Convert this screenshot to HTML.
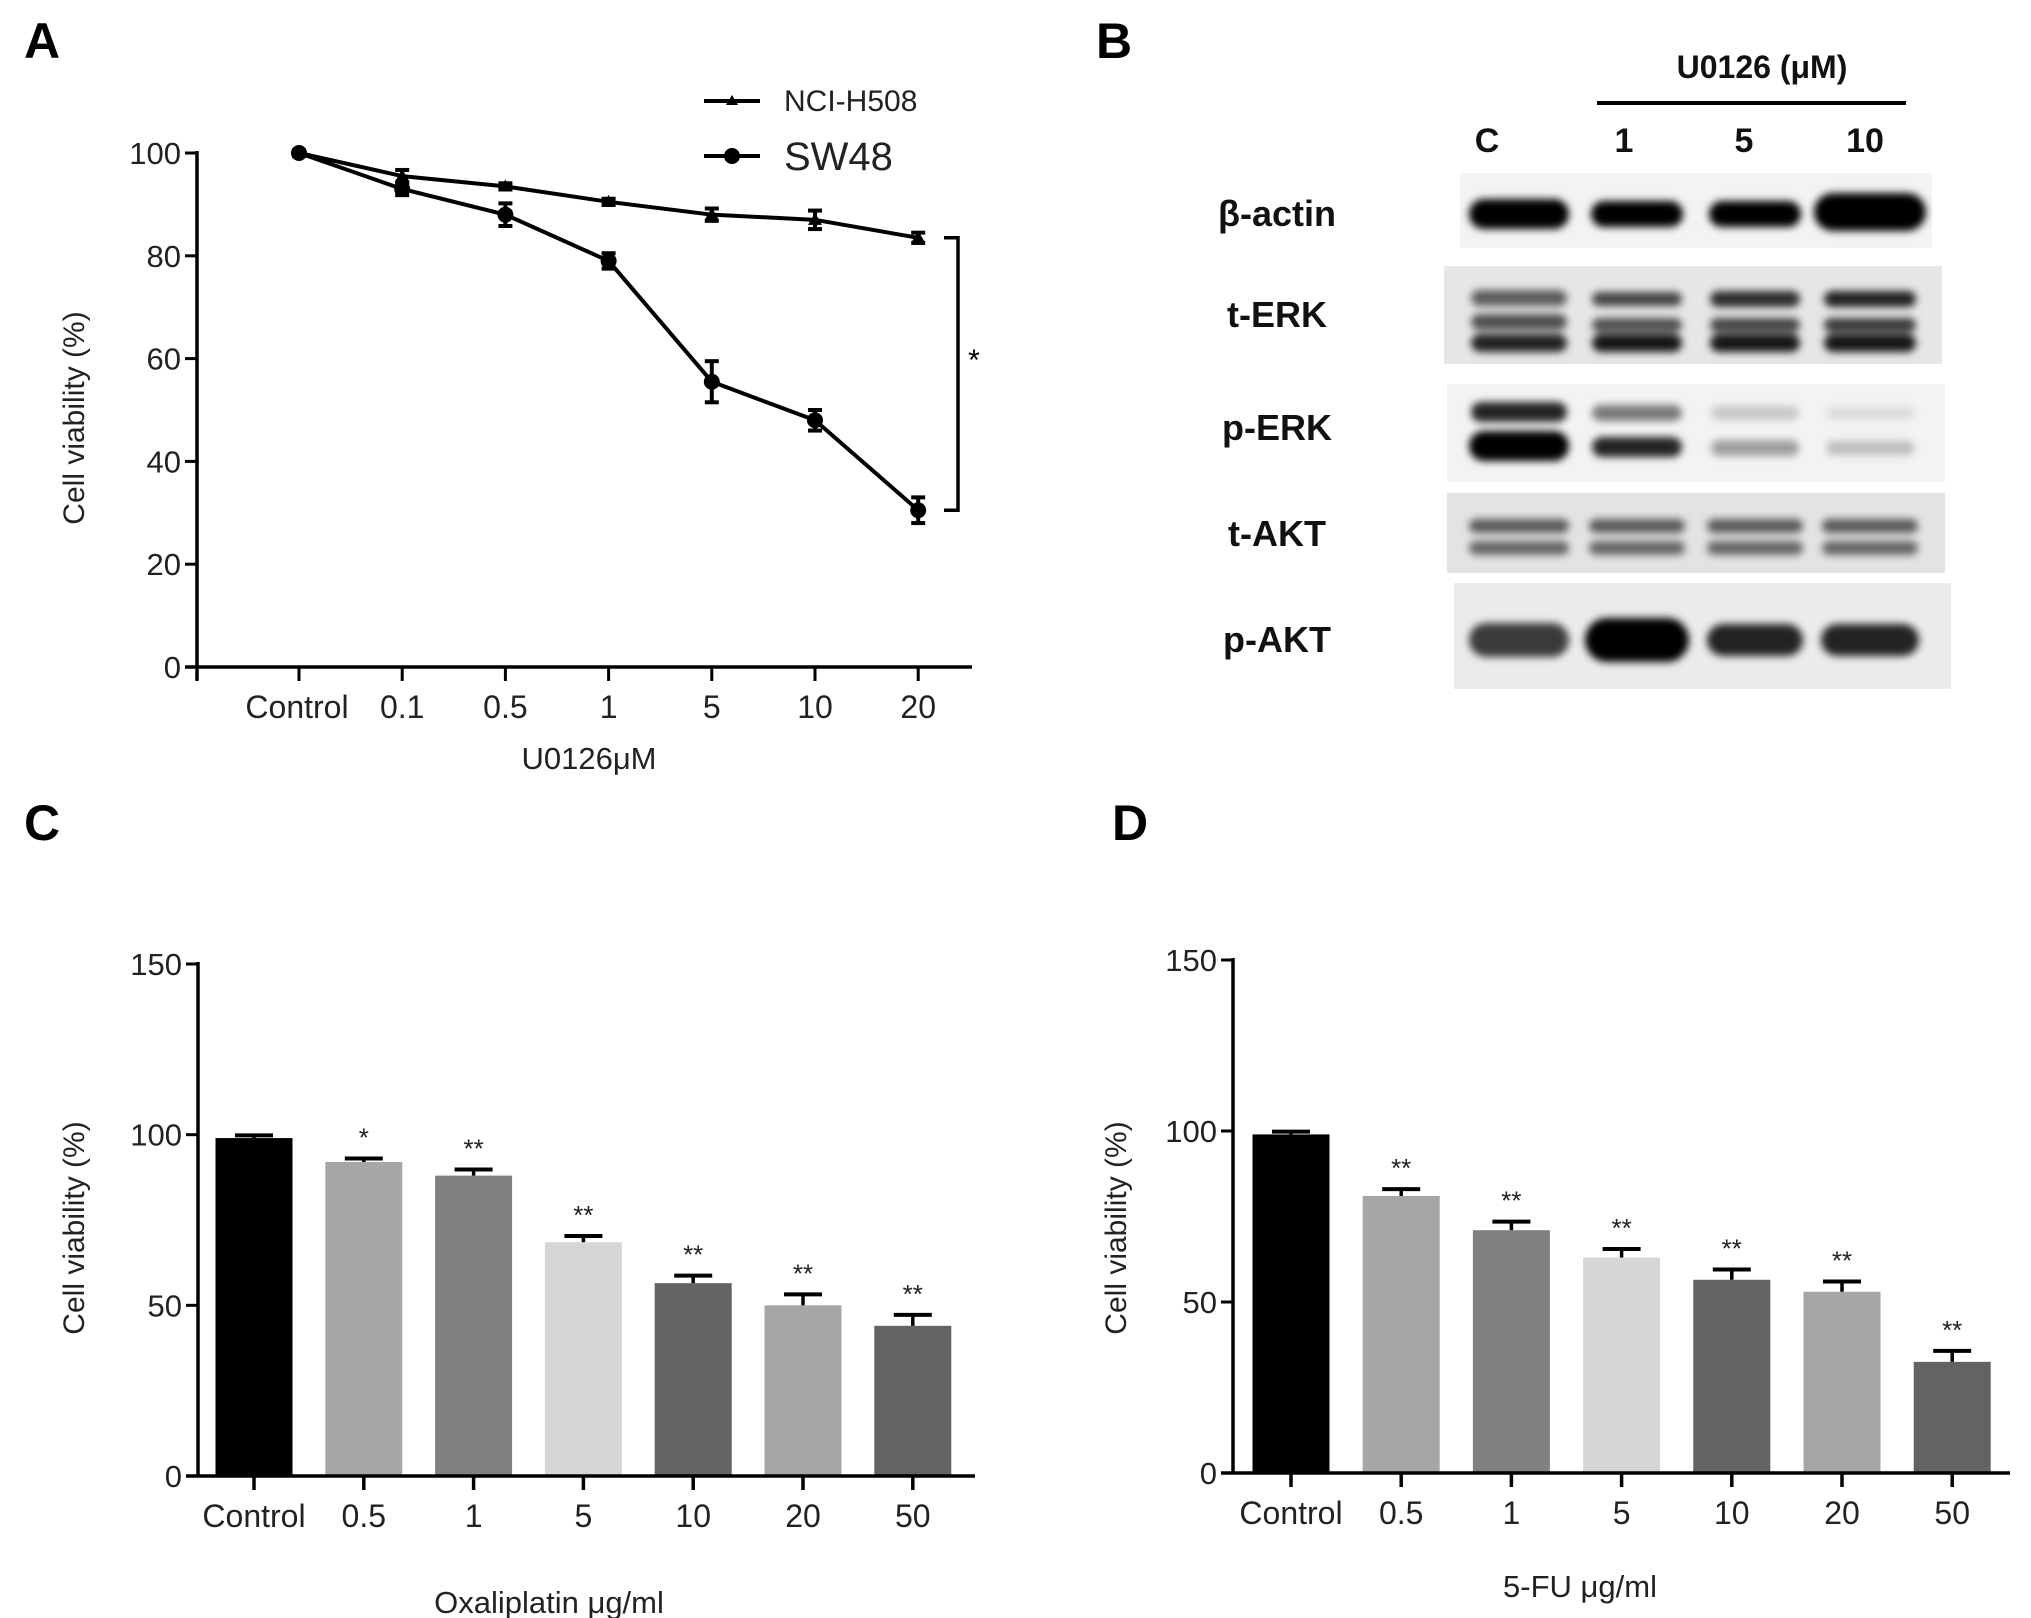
<!DOCTYPE html>
<html><head><meta charset="utf-8">
<style>
html,body{margin:0;padding:0;background:#fff;}
svg{display:block;font-family:"Liberation Sans",Arial,sans-serif;}
</style></head>
<body>
<svg id="fig" width="2031" height="1618" viewBox="0 0 2031 1618" xmlns="http://www.w3.org/2000/svg">
<defs>
<filter id="blur3" x="-20%" y="-60%" width="140%" height="220%"><feGaussianBlur stdDeviation="4"/></filter>
</defs>
<g id="panelA"></g>
<g id="panelB"></g>
<g id="panelC"></g>
<g id="panelD"></g>
</svg>
<script>
// ---- Panel A data ----
const aCategories = ["Control","0.1","0.5","1","5","10","20"];
const aNciValues = [100, 95.5, 93.5, 90.5, 88, 87, 83.5];
const aNciErrors = [0.5, 1.2, 0.6, 0.6, 1.2, 1.8, 1.0];
const aSwValues = [100, 93, 88, 79, 55.5, 48, 30.5];
const aSwErrors = [0.5, 1.2, 2.2, 1.5, 4.0, 2.0, 2.5];
const aYTicks = [0, 20, 40, 60, 80, 100];
// ---- Panel C data ----
const cCategories = ["Control","0.5","1","5","10","20","50"];
const cValues = [99, 92, 88, 68.5, 56.5, 50, 44];
const cErrors = [0.8, 1.0, 1.8, 1.8, 2.2, 3.2, 3.2];
const cStars = ["", "*", "**", "**", "**", "**", "**"];
// ---- Panel D data ----
const dCategories = ["Control","0.5","1","5","10","20","50"];
const dValues = [99, 81, 71, 63, 56.5, 53, 32.5];
const dErrors = [0.8, 2.0, 2.5, 2.5, 3.0, 3.0, 3.2];
const dStars = ["", "**", "**", "**", "**", "**", "**"];
const barYTicks = [0, 50, 100, 150];
// ---- Panel B data ----
const bLanes = ["C","1","5","10"];
const bRows = ["β-actin","t-ERK","p-ERK","t-AKT","p-AKT"];

const NS = "http://www.w3.org/2000/svg";
function mk(parent, tag, attrs, text){
  const e = document.createElementNS(NS, tag);
  for (const k in attrs) e.setAttribute(k, attrs[k]);
  if (text !== undefined) e.textContent = text;
  parent.appendChild(e);
  return e;
}
const barColors = ["#000000","#a6a6a6","#808080","#d6d6d6","#636363","#a6a6a6","#636363"];

// ================= Panel A =================
(function(){
  const g = document.getElementById('panelA');
  const x0 = 197, yTop = 153, yBot = 667;
  const xs = i => 299 + i * 103.2;
  const ys = v => yBot - (v / 100) * (yBot - yTop);
  let t = mk(g,'text',{x:24,y:58,'font-size':50,'font-weight':'bold'},'A');
   
  let ax = mk(g,'line',{x1:x0,y1:yTop-2,x2:x0,y2:yBot+14,stroke:'#000','stroke-width':3.5});
   
  let axx = mk(g,'line',{x1:x0-12,y1:yBot,x2:972,y2:yBot,stroke:'#000','stroke-width':3.5});
   
  aYTicks.forEach(v=>{
    mk(g,'line',{x1:x0-12,y1:ys(v),x2:x0,y2:ys(v),stroke:'#000','stroke-width':3});
    const l = mk(g,'text',{x:x0-16,y:ys(v)+11,'font-size':31,'text-anchor':'end',fill:'#222'},String(v));
     
  });
  aCategories.forEach((c,i)=>{
    mk(g,'line',{x1:xs(i),y1:yBot,x2:xs(i),y2:yBot+14,stroke:'#000','stroke-width':3});
    const l = mk(g,'text',{x:xs(i)+(i===0?-2:0),y:718,'font-size':32,'text-anchor':'middle',fill:'#222'},c);
     
  });
  let yl = mk(g,'text',{x:0,y:0,'font-size':30,'text-anchor':'middle',fill:'#222',transform:'translate(84,418) rotate(-90)'},'Cell viability (%)');
   
  let xl = mk(g,'text',{x:589,y:769,'font-size':31,'text-anchor':'middle',fill:'#222'},'U0126μM');
   
  function series(vals, errs, marker, name){
    const sg = mk(g,'g',{});
     
    mk(sg,'polyline',{points:vals.map((v,i)=>xs(i)+','+ys(v)).join(' '),fill:'none',stroke:'#000','stroke-width':4});
    vals.forEach((v,i)=>{
      const x=xs(i), yh=ys(v+errs[i]), yl2=ys(v-errs[i]);
      mk(sg,'line',{x1:x,y1:yh,x2:x,y2:yl2,stroke:'#000','stroke-width':4});
      mk(sg,'line',{x1:x-7,y1:yh,x2:x+7,y2:yh,stroke:'#000','stroke-width':4});
      mk(sg,'line',{x1:x-7,y1:yl2,x2:x+7,y2:yl2,stroke:'#000','stroke-width':4});
      let m;
      if (marker==='circle') m = mk(sg,'circle',{cx:x,cy:ys(v),r:8,fill:'#000'});
      else m = mk(sg,'polygon',{points:`${x},${ys(v)-7} ${x-7},${ys(v)+5} ${x+7},${ys(v)+5}`,fill:'#000'});
       
    });
  }
  series(aNciValues, aNciErrors, 'tri', 'series-nci-h508');
  series(aSwValues, aSwErrors, 'circle', 'series-sw48');
  const lg = mk(g,'g',{});  
  mk(lg,'line',{x1:704,y1:101,x2:760,y2:101,stroke:'#000','stroke-width':4});
  mk(lg,'polygon',{points:'732,95 726,105 738,105',fill:'#000'});
  let le1 = mk(lg,'text',{x:784,y:111,'font-size':30,fill:'#222'},'NCI-H508');
   
  mk(lg,'line',{x1:704,y1:156,x2:760,y2:156,stroke:'#000','stroke-width':4});
  mk(lg,'circle',{cx:732,cy:156,r:8,fill:'#000'});
  let le2 = mk(lg,'text',{x:784,y:170,'font-size':40,fill:'#222'},'SW48');
   
  const last = aCategories.length-1;
  const br = mk(g,'polyline',{points:`944,${ys(aNciValues[last])} 958,${ys(aNciValues[last])} 958,${ys(aSwValues[last])} 944,${ys(aSwValues[last])}`,fill:'none',stroke:'#000','stroke-width':3.5});
   
  let st = mk(g,'text',{x:974,y:370,'font-size':30,fill:'#000','text-anchor':'middle'},'*');
   
})();

// ================= Panel B =================
(function(){
  const g = document.getElementById('panelB');
  let t = mk(g,'text',{x:1096,y:58,'font-size':50,'font-weight':'bold'},'B');
   
  let h = mk(g,'text',{x:1762,y:78,'font-size':32,'font-weight':'bold','text-anchor':'middle',fill:'#111'},'U0126 (μM)');
   
  let ln = mk(g,'line',{x1:1597,y1:103,x2:1906,y2:103,stroke:'#000','stroke-width':4});
   
  const laneX = [1519,1637,1755,1870];
  const labelX = [1487,1624,1744,1865];
  bLanes.forEach((l,i)=>{
    const e = mk(g,'text',{x:labelX[i],y:152,'font-size':34,'font-weight':'bold','text-anchor':'middle',fill:'#111'},l);
     
  });
  const rowY = [214,315,428,534,640];
  bRows.forEach((r,i)=>{
    const e = mk(g,'text',{x:1277,y:rowY[i]+12,'font-size':36,'font-weight':'bold','text-anchor':'middle',fill:'#111'},r);
     
  });
  const boxes = [[1460,173,472,75,'#f3f3f3'],[1444,266,498,98,'#e6e6e6'],[1447,384,498,98,'#f3f3f3'],[1447,493,498,80,'#e3e3e3'],[1454,583,497,106,'#ebebeb']];
  const bands = [
    [0,0,214,100,30,1],[0,1,214,92,26,1],[0,2,214,92,26,1],[0,3,212,112,38,1],
    [1,0,298,96,16,0.6],[1,0,322,96,16,0.65],[1,0,343,96,18,0.85],
    [1,1,299,90,14,0.7],[1,1,325,90,14,0.65],[1,1,343,90,18,0.9],
    [1,2,299,90,16,0.8],[1,2,325,90,14,0.7],[1,2,343,90,18,0.9],
    [1,3,299,92,16,0.85],[1,3,325,92,14,0.75],[1,3,343,92,18,0.9],
    [2,0,412,96,20,0.85],[2,0,446,100,30,1],
    [2,1,413,90,16,0.5],[2,1,447,90,20,0.85],
    [2,2,413,88,14,0.18],[2,2,448,88,16,0.35],
    [2,3,413,88,12,0.1],[2,3,448,88,14,0.22],
    [3,0,526,100,14,0.6],[3,0,548,100,14,0.55],[3,1,526,96,14,0.6],[3,1,548,96,14,0.55],
    [3,2,526,96,14,0.6],[3,2,548,96,14,0.55],[3,3,526,96,14,0.6],[3,3,548,96,14,0.55],
    [4,0,640,100,34,0.75],[4,1,640,104,44,1],[4,2,640,96,32,0.85],[4,3,640,98,32,0.85]
  ];
  boxes.forEach((b,i)=>{
    const bg = mk(g,'g',{});
    
    
    mk(bg,'rect',{x:b[0],y:b[1],width:b[2],height:b[3],fill:b[4]});
    const bb = mk(bg,'g',{filter:'url(#blur3)'});
    bands.filter(d=>d[0]===i).forEach(d=>{
      const e = mk(bb,'rect',{x:laneX[d[1]]-d[3]/2,y:d[2]-d[4]/2,width:d[3],height:d[4],rx:d[4]/2,fill:'#000','fill-opacity':d[5]});
       
    });
  });
})();

// ================= Bar panels =================
function barPanel(gid, label, lx, ly, cats, vals, errs, stars, opts){
  const g = document.getElementById(gid);
  const {x0, yTop, yBot, xEnd, x1st, step, bw, ylX, xTitle, xTitleX, xTitleY} = opts;
  const ys = v => yBot - (v/150)*(yBot-yTop);
  const xs = i => x1st + i*step;
  let t = mk(g,'text',{x:lx,y:ly,'font-size':50,'font-weight':'bold'},label);
   
  vals.forEach((v,i)=>{
    const b = mk(g,'rect',{x:xs(i)-bw/2,y:ys(v),width:bw,height:yBot-ys(v),fill:barColors[i]});
     
    const ye = ys(v+errs[i]);
    mk(g,'line',{x1:xs(i),y1:ys(v),x2:xs(i),y2:ye,stroke:'#000','stroke-width':3.5});
    const cap = mk(g,'line',{x1:xs(i)-19,y1:ye,x2:xs(i)+19,y2:ye,stroke:'#000','stroke-width':4});
     
    if (stars[i]){
      const s = mk(g,'text',{x:xs(i),y:ye-12,'font-size':26,'text-anchor':'middle',fill:'#222'},stars[i]);
       
    }
    mk(g,'line',{x1:xs(i),y1:yBot,x2:xs(i),y2:yBot+14,stroke:'#000','stroke-width':3.5});
    const l = mk(g,'text',{x:xs(i),y:yBot+51,'font-size':32,'text-anchor':'middle',fill:'#222'},cats[i]);
     
  });
  let ay = mk(g,'line',{x1:x0,y1:yTop-2,x2:x0,y2:yBot,stroke:'#000','stroke-width':3.5});
   
  let axx = mk(g,'line',{x1:x0-12,y1:yBot,x2:xEnd,y2:yBot,stroke:'#000','stroke-width':3.5});
   
  barYTicks.forEach(v=>{
    mk(g,'line',{x1:x0-12,y1:ys(v),x2:x0,y2:ys(v),stroke:'#000','stroke-width':3});
    const l = mk(g,'text',{x:x0-16,y:ys(v)+11,'font-size':31,'text-anchor':'end',fill:'#222'},String(v));
     
  });
  let yl = mk(g,'text',{x:0,y:0,'font-size':30,'text-anchor':'middle',fill:'#222',transform:`translate(${ylX},1228) rotate(-90)`},'Cell viability (%)');
   
  let xl = mk(g,'text',{x:xTitleX,y:xTitleY,'font-size':31,'text-anchor':'middle',fill:'#222'},xTitle);
   
}
barPanel('panelC','C',24,840,cCategories,cValues,cErrors,cStars,
  {x0:198,yTop:964,yBot:1476,xEnd:975,x1st:254,step:109.8,bw:77,ylX:84,xTitle:'Oxaliplatin μg/ml',xTitleX:549,xTitleY:1613});
barPanel('panelD','D',1112,840,dCategories,dValues,dErrors,dStars,
  {x0:1233,yTop:960,yBot:1473,xEnd:2010,x1st:1291,step:110.2,bw:77,ylX:1126,xTitle:'5-FU μg/ml',xTitleX:1580,xTitleY:1597});
</script>
</body></html>
